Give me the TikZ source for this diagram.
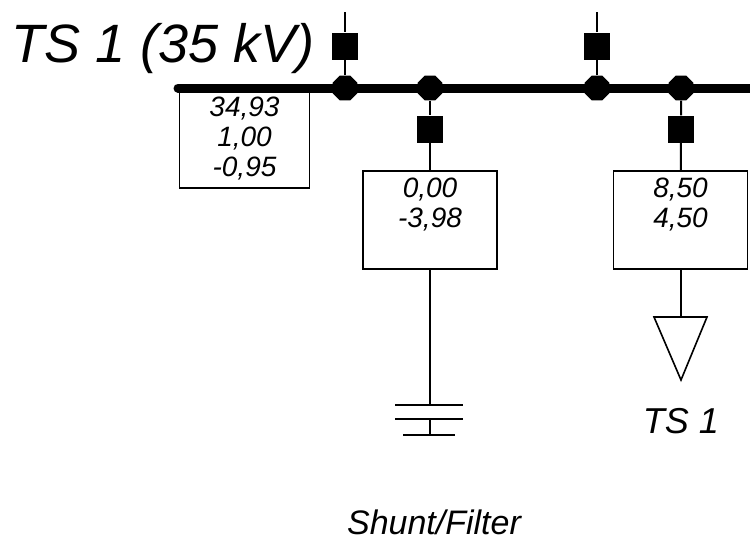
\documentclass[tikz,border=0pt]{standalone}
\usepackage{fontspec}
\setmainfont{Liberation Sans}
\usepackage{tikz}
\usetikzlibrary{shapes.geometric}

\tikzset{
    wire/.style={line width=2pt},
    bus/.style={line width=9pt, line cap=round},
    busdot/.style={regular polygon, regular polygon sides=8, fill, inner sep=0pt, minimum size=27pt},
    breaker/.style={rectangle, fill, inner sep=0pt, minimum width=26pt, minimum height=27pt},
    valbox/.style={rectangle, draw, line width=1.6pt, inner sep=0pt, minimum height=98pt},
    valtxt/.style={font=\fontsize{28}{30}\selectfont\itshape, align=center, inner sep=0pt},
}

\begin{document}
\begin{tikzpicture}[x=1pt, y=-1pt]
        \clip (0,0) rectangle (750,542);

        % Busbar TS 1
        \draw [bus] (178,88) -- (760,88);
        \node [anchor=base west, inner sep=0pt, font=\fontsize{54}{60}\selectfont\itshape] (title) at (11,62) {TS 1 (35 kV)};

        \node [valbox, minimum width=130pt] (busbox) at (244.5,139) {};
        \node [valtxt] (bustxt) at (busbox.center) {34,93\\1,00\\-0,95};

        % Incoming feeders
        \coordinate (top1) at (345,12);
        \node [breaker] (brk1) at (345,46) {};
        \node [busdot] (dot1) at (345,88) {};
        \draw [wire] (top1) -- (brk1) -- (dot1);

        \coordinate (top2) at (597,12);
        \node [breaker] (brk2) at (597,46) {};
        \node [busdot] (dot2) at (597,88) {};
        \draw [wire] (top2) -- (brk2) -- (dot2);

        % Shunt/Filter
        \node [busdot] (dot3) at (430,88) {};
        \node [breaker] (brk3) at (430,129) {};
        \node [valbox, minimum width=134pt] (shbox) at (430,220) {};
        \node [valtxt, anchor=north] (shtxt) at (430,178) {0,00\\-3,98};
        \coordinate (cap) at (430,405);
        \draw [wire] (dot3) -- (brk3) -- (shbox);
        \draw [wire] (shbox) -- (cap);
        \draw [wire] (395,405) -- (463,405);
        \draw [wire] (395,419) -- (463,419);
        \draw [wire] (430,419) -- (430,435);
        \draw [wire] (403,435) -- (455,435);
        \node [anchor=base, inner sep=0pt, font=\fontsize{34}{40}\selectfont\itshape] (shlabel) at (434,534) {Shunt/Filter};

        % Load TS 1
        \node [busdot] (dot4) at (681,88) {};
        \node [breaker] (brk4) at (681,129) {};
        \node [valbox, minimum width=134pt] (ldbox) at (680.5,220) {};
        \node [valtxt, anchor=north] (ldtxt) at (680.5,178) {8,50\\4,50};
        \coordinate (load) at (681,317);
        \draw [wire] (dot4) -- (brk4) -- (ldbox);
        \draw [wire] (ldbox.south -| load) -- (load);
        \draw [line width=1.6pt, line join=miter] (654,317) -- (707,317) -- (681,380) -- cycle;
        \node [inner sep=0pt, font=\fontsize{36}{40}\selectfont\itshape] (ldlabel) at (681,421) {TS 1};
\end{tikzpicture}
\end{document}
